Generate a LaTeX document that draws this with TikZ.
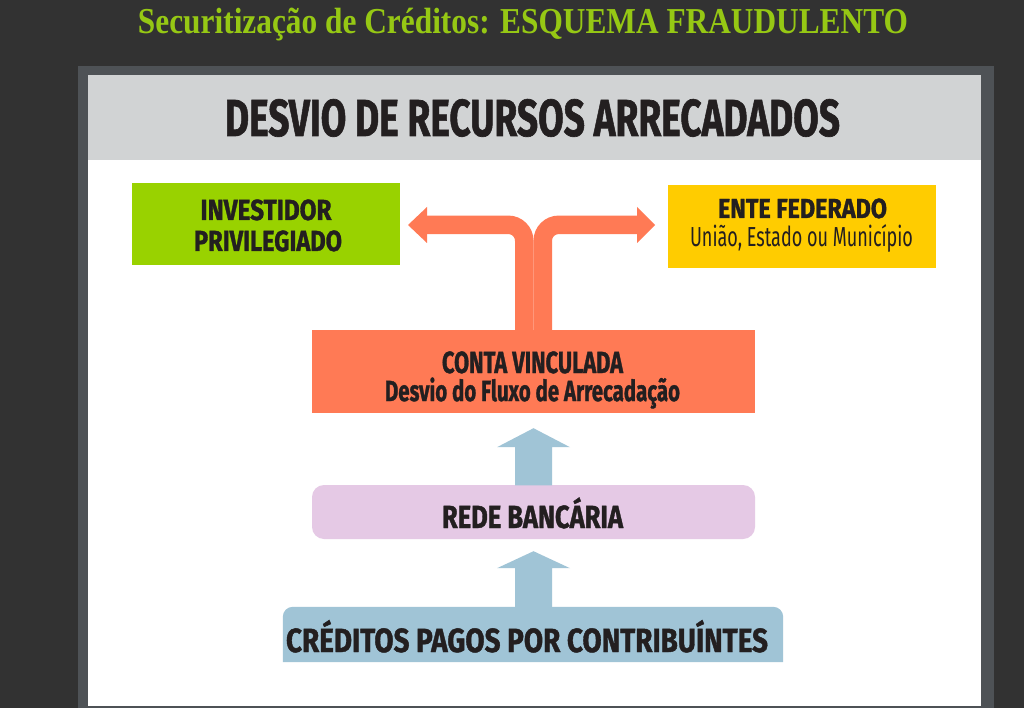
\documentclass[tikz,border=0pt]{standalone}
\usepackage{fontspec}
\usepackage{graphicx}
\setmainfont{Liberation Serif}
\newfontfamily\fira{Fira Sans}[BoldFeatures={FakeBold=1.3}]
\usetikzlibrary{calc}
\definecolor{bgdark}{RGB}{50,50,50}
\definecolor{framec}{RGB}{78,82,86}
\definecolor{headgray}{RGB}{209,211,212}
\definecolor{titlegreen}{RGB}{150,200,20}
\definecolor{greenc}{RGB}{153,210,0}
\definecolor{yellowc}{RGB}{255,204,0}
\definecolor{orangec}{RGB}{255,122,85}
\definecolor{lilacc}{RGB}{229,201,229}
\definecolor{bluec}{RGB}{160,196,214}
\definecolor{txtdark}{RGB}{35,31,32}
\newcommand\fw[2]{\resizebox{#1pt}{\height}{#2}}
\newcommand\fs[1]{\fontsize{#1}{#1}\selectfont}
\begin{document}
\begin{tikzpicture}[x=1pt,y=-1pt,
  lbl/.style={inner sep=0pt, anchor=base, text=txtdark},
  box/.style={inner sep=0pt, draw=none},
  orangeline/.style={draw=orangec, line width=18.5pt, line cap=butt, rounded corners=16pt}]
\useasboundingbox (0,0) rectangle (1024,708);
\fill[bgdark] (0,0) rectangle (1024,708);
\fill[framec] (78,66) rectangle (994,708);
\fill[white] (88,160) rectangle (981,706);
\fill[headgray] (88,75) rectangle (981,160);

% title
\node[inner sep=0pt, anchor=base, text=titlegreen] (title) at (523,33.5)
  {\fw{770}{\fs{36.5}\bfseries Securitização de Créditos: ESQUEMA FRAUDULENTO}};
\node[lbl] (head) at (532.5,136) {\fw{615}{\fira\fs{52}\bfseries DESVIO DE RECURSOS ARRECADADOS}};

% boxes
\node[box, fill=greenc, minimum width=268pt, minimum height=82pt] (inv) at (266,224) {};
\node[box, fill=yellowc, minimum width=268pt, minimum height=83pt] (ente) at (802,226.5) {};
\node[box, fill=orangec, minimum width=443pt, minimum height=83pt] (conta) at (533.5,371.5) {};
\node[box, fill=lilacc, rounded corners=12pt, minimum width=443pt, minimum height=54pt] (rb) at (533.5,512) {};
\node[box, minimum width=500pt, minimum height=55pt] (cpc) at (533,634.5) {};
\fill[bluec] (cpc.south west) [rounded corners=10pt] -- (cpc.north west) -- (cpc.north east) [sharp corners] -- (cpc.south east) -- cycle;

% labels
\node[lbl] (invA) at ($(inv.center)+(0,-4)$) {\fw{131}{\fira\fs{29}\bfseries INVESTIDOR}};
\node[lbl] (invB) at ($(inv.center)+(2,27)$) {\fw{148}{\fira\fs{29}\bfseries PRIVILEGIADO}};
\node[lbl] (enteA) at ($(ente.center)+(0.5,-8.5)$) {\fw{169}{\fira\fs{27.5}\bfseries ENTE FEDERADO}};
\node[lbl] (enteB) at ($(ente.center)+(-0.5,20.5)$) {\fw{223}{\fira\fs{27.5}União, Estado ou Município}};
\node[lbl] (contaA) at ($(conta.center)+(-1,1.5)$) {\fw{181}{\fira\fs{30.5}\bfseries CONTA VINCULADA}};
\node[lbl] (contaB) at ($(conta.center)+(-1,29.5)$) {\fw{295}{\fira\fs{29}\bfseries Desvio do Fluxo de Arrecadação}};
\node[lbl] (rbA) at ($(rb.center)+(-1,16)$) {\fw{181}{\fira\fs{32}\bfseries REDE BANCÁRIA}};
\node[lbl] (cpcA) at ($(cpc.center)+(-6,17.5)$) {\fw{482}{\fira\fs{33.5}\bfseries CRÉDITOS PAGOS POR CONTRIBUÍNTES}};

% orange split arrow
\coordinate (ltip) at (408,225);
\coordinate (rtip) at (655,225);
\draw[orangeline] ($(conta.north)+(-9.25,1)$) -- ($(conta.north)+(-9.25,-105)$) -- ($(ltip)+(17,0)$);
\draw[orangeline] ($(conta.north)+(9.25,1)$) -- ($(conta.north)+(9.25,-105)$) -- ($(rtip)+(-17,0)$);
\fill[orangec] (ltip) -- ($(ltip)+(19,-18)$) -- ($(ltip)+(19,18)$) -- cycle;
\fill[orangec] (rtip) -- ($(rtip)+(-18,-18)$) -- ($(rtip)+(-18,18)$) -- cycle;

% blue arrows
\coordinate (t1) at ($(conta.south)+(0,15)$);
\fill[bluec] ($(rb.north)+(-18.5,0.5)$) -- ($(t1)+(-18.5,19)$) -- ($(t1)+(-36.5,19)$) -- (t1)
  -- ($(t1)+(36.5,19)$) -- ($(t1)+(18.5,19)$) -- ($(rb.north)+(18.5,0.5)$) -- cycle;
\coordinate (t2) at ($(rb.south)+(0,12)$);
\fill[bluec] ($(cpc.north)+(0.5,0.5)$) ++(-18.5,0) -- ($(t2)+(-18.5,17)$) -- ($(t2)+(-36.5,17)$) -- (t2)
  -- ($(t2)+(36.5,17)$) -- ($(t2)+(18.5,17)$) -- ($(cpc.north)+(19,0.5)$) -- cycle;
\end{tikzpicture}
\end{document}
